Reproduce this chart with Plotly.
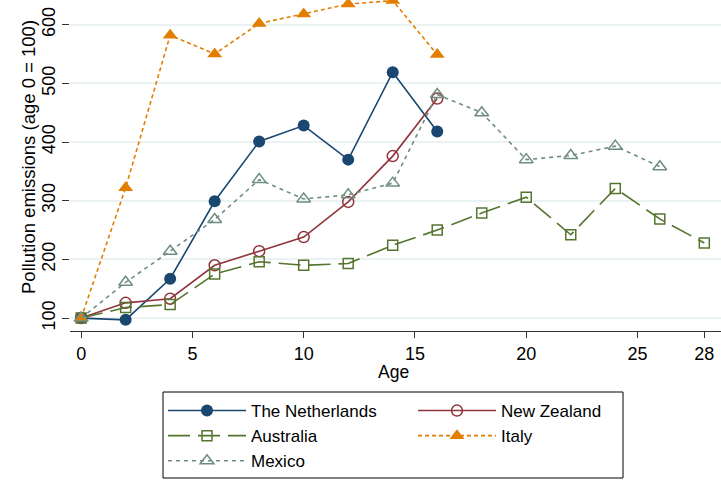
import plotly.graph_objects as go

ages_nl = [0, 2, 4, 6, 8, 10, 12, 14, 16]
netherlands = [100, 97, 167, 299, 401, 428, 370, 519, 418]

ages_nz = [0, 2, 4, 6, 8, 10, 12, 14, 16]
new_zealand = [100, 126, 133, 190, 214, 238, 298, 376, 474]

ages_au = [0, 2, 4, 6, 8, 10, 12, 14, 16, 18, 20, 22, 24, 26, 28]
australia = [100, 118, 123, 175, 196, 190, 193, 224, 250, 279, 306, 242, 321, 269, 228]

ages_it = [0, 2, 4, 6, 8, 10, 12, 14, 16]
italy = [100, 322, 582, 550, 602, 618, 635, 641, 549]

ages_mx = [0, 2, 4, 6, 8, 10, 12, 14, 16, 18, 20, 22, 24, 26]
mexico = [100, 161, 214, 268, 336, 303, 310, 330, 481, 450, 370, 377, 393, 358]

x_ticks = [0, 5, 10, 15, 20, 25, 28]
y_ticks = [100, 200, 300, 400, 500, 600]

Y_TITLE = "Pollution emissions (age 0 = 100)"
X_TITLE = "Age"

FONT = "Liberation Sans, Arial, sans-serif"
W, H = 721, 480
ML, MB = 70, 149
PW, PH = W - ML, H - MB

fig = go.Figure()

fig.add_trace(go.Scatter(
    x=ages_nl, y=netherlands, name="The Netherlands", mode="lines+markers",
    legend="legend",
    line=dict(color="#1a476f", width=1.6),
    marker=dict(symbol="circle", size=12, color="#1a476f")))
fig.add_trace(go.Scatter(
    x=ages_nz, y=new_zealand, name="New Zealand", mode="lines+markers",
    legend="legend2",
    line=dict(color="#90353b", width=1.6),
    marker=dict(symbol="circle-open", size=11, color="#90353b", line=dict(width=1.5))))
fig.add_trace(go.Scatter(
    x=ages_au, y=australia, name="Australia", mode="lines+markers",
    legend="legend",
    line=dict(color="#55752f", width=1.6, dash="22px,8px"),
    marker=dict(symbol="square-open", size=10, color="#55752f", line=dict(width=1.5))))
fig.add_trace(go.Scatter(
    x=ages_it, y=italy, name="Italy", mode="lines+markers",
    legend="legend2",
    line=dict(color="#e37e00", width=1.6, dash="4px,3px"),
    marker=dict(symbol="triangle-up", size=13, color="#e37e00")))
fig.add_trace(go.Scatter(
    x=ages_mx, y=mexico, name="Mexico", mode="lines+markers",
    legend="legend",
    line=dict(color="#6e8e84", width=1.6, dash="4px,4px"),
    marker=dict(symbol="triangle-up-open", size=12, color="#6e8e84", line=dict(width=1.5))))

legend_common = dict(
    orientation="v",
    xref="container", yref="container",
    xanchor="left", yanchor="top",
    itemwidth=78,
    borderwidth=0, bgcolor="rgba(0,0,0,0)",
    font=dict(family=FONT, size=17, color="black"),
    tracegroupgap=0,
)

# legend frame (paper coords relative to plot area)
fx0, fx1, fy_top, fy_bot = 163, 623, 392, 478
fig.add_shape(type="rect", xref="paper", yref="paper",
              x0=(fx0 - ML) / PW, x1=(fx1 - ML) / PW,
              y0=(PH - fy_bot) / PH, y1=(PH - fy_top) / PH,
              line=dict(color="black", width=1), fillcolor="rgba(0,0,0,0)", layer="above")

# axis titles as annotations
fig.add_annotation(text=Y_TITLE, textangle=-90, showarrow=False,
                   xref="paper", yref="paper",
                   x=(28 - ML) / PW, y=(PH - 157) / PH,
                   xanchor="center", yanchor="middle",
                   font=dict(family=FONT, size=18.5, color="black"))
fig.add_annotation(text=X_TITLE, showarrow=False,
                   xref="paper", yref="paper",
                   x=(393 - ML) / PW, y=(PH - 372) / PH,
                   xanchor="center", yanchor="middle",
                   font=dict(family=FONT, size=17.5, color="black"))

fig.update_layout(
    width=W, height=H,
    margin=dict(l=ML, r=0, t=0, b=MB, autoexpand=False),
    paper_bgcolor="white", plot_bgcolor="white",
    font=dict(family=FONT, size=18, color="black"),
    legend=dict(legend_common, x=163 / W, y=1 - 393 / H),
    legend2=dict(legend_common, x=413 / W, y=1 - 393 / H),
    hovermode=False,
    xaxis=dict(
        range=[-0.5, 28.75],
        tickmode="array", tickvals=x_ticks, ticktext=[str(v) for v in x_ticks],
        ticks="outside", ticklen=6, tickcolor="#333333", tickwidth=1,
        showline=True, linecolor="#333333", linewidth=1.2,
        showgrid=False, zeroline=False, automargin=False,
        tickfont=dict(family=FONT, size=18),
    ),
    yaxis=dict(
        range=[78, 642],
        tickmode="array", tickvals=y_ticks, ticktext=[str(v) for v in y_ticks],
        tickangle=-90,
        ticks="outside", ticklen=7, tickcolor="#333333", tickwidth=1,
        showline=False, automargin=False,
        showgrid=True, gridcolor="#eaf2f3", gridwidth=1.5,
        zeroline=False,
        tickfont=dict(family=FONT, size=18),
    ),
)

fig.write_html("out.html", config={"displayModeBar": False},
               post_script="document.body.style.margin='0';")
